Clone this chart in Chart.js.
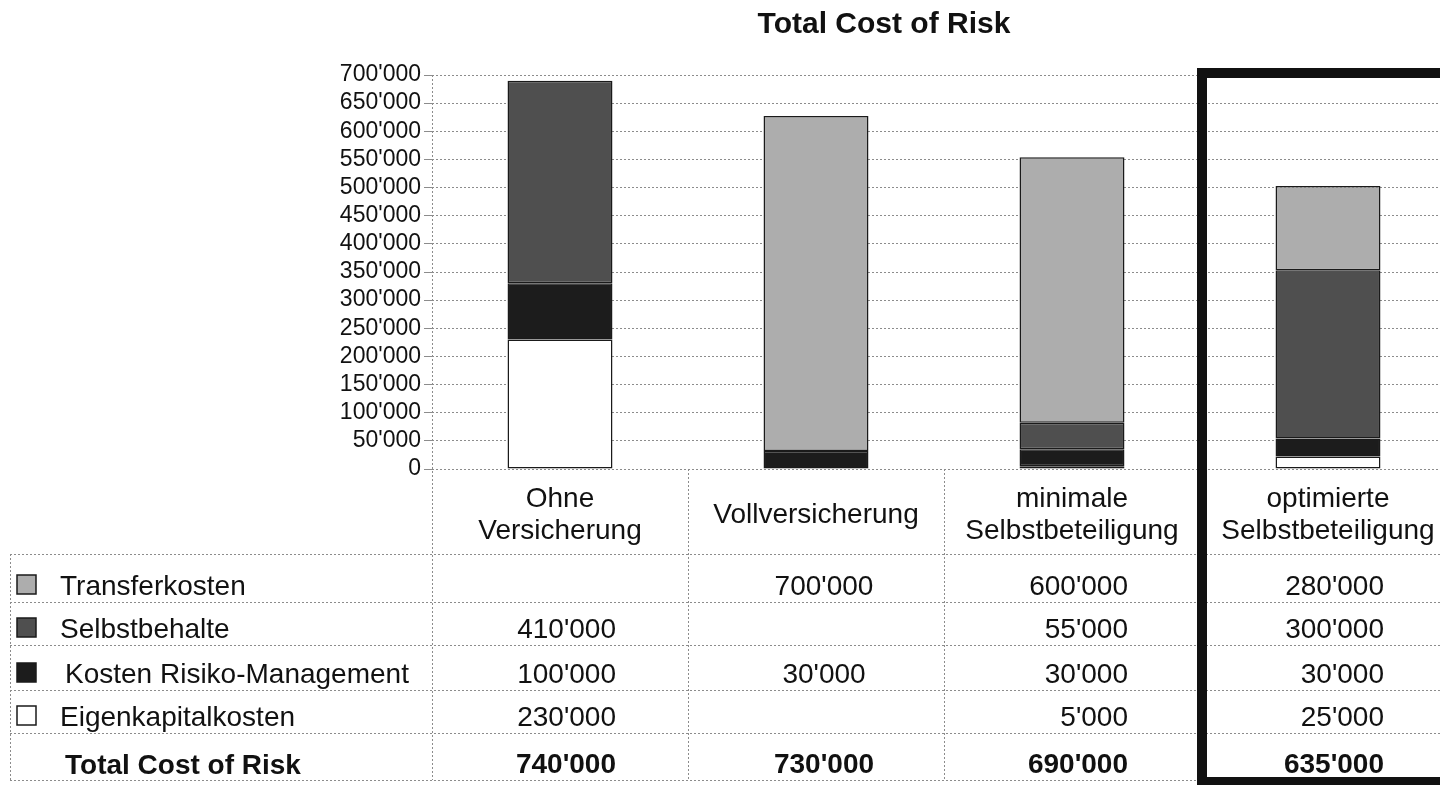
<!DOCTYPE html>
<html>
<head>
<meta charset="utf-8">
<title>Total Cost of Risk</title>
<script src="https://cdn.jsdelivr.net/npm/chart.js@4"></script>
<style>
  html, body { margin: 0; padding: 0; background: #fff; overflow: hidden; }
  #wrap { width: 1456px; height: 785px; }
</style>
</head>
<body>
<div id="wrap"><canvas id="costOfRisk" width="1456" height="785"></canvas></div>
<script>
// categories (x axis) and row names of the table
let kategorien = [["Ohne", "Versicherung"], "Vollversicherung", ["minimale", "Selbstbeteiligung"], ["optimierte", "Selbstbeteiligung"]];
let reihen = ["Transferkosten", "Selbstbehalte", "Kosten Risiko-Management", "Eigenkapitalkosten"];
let totalLabel = "Total Cost of Risk";

// bar heights as they are drawn in the chart
let balkenTransfer = [null, 595000, 472000, 150000];
let balkenSelbstbehalte = [360000, null, 47000, 299000];
let balkenRisikoMgmt = [100000, 32000, 30000, 32000];
let balkenEigenkapital = [230000, null, 5000, 22000];

// numbers printed in the table under the chart
let tabTransfer = [null, 700000, 600000, 280000];
let tabSelbstbehalte = [410000, null, 55000, 300000];
let tabRisikoMgmt = [100000, 30000, 30000, 30000];
let tabEigenkapital = [230000, null, 5000, 25000];
let tabTotal = [740000, 730000, 690000, 635000];

// y axis
let yMin = 0;
let yMax = 700000;
let yStep = 50000;

let farben = ['#adadad', '#4f4f4f', '#1c1c1c', '#ffffff'];
let rand = '#1a1a1a';
let gitter = '#8c8c8c';

function fmt(v) {
    return String(v).replace(/\B(?=(\d{3})+(?!\d))/g, "'");
}

function punktLinie(ctx, x1, y1, x2, y2) {
    ctx.beginPath();
    ctx.moveTo(x1, y1);
    ctx.lineTo(x2, y2);
    ctx.stroke();
}

// title, table lines, row labels and numbers
let tabelle = {
    id: 'tabelle',
    afterDraw(chart) {
        let ctx = chart.ctx;
        let xs = chart.scales.x;
        let area = chart.chartArea;
        let colW = xs.getPixelForValue(1) - xs.getPixelForValue(0);
        let rowY = [554, 602, 645, 690, 733, 780];
        ctx.save();

        // title
        ctx.fillStyle = '#111';
        ctx.font = "bold 30px 'Liberation Sans', Arial, sans-serif";
        ctx.textAlign = 'center';
        ctx.textBaseline = 'alphabetic';
        ctx.fillText(totalLabel, 884, 33);

        // dotted lines
        ctx.strokeStyle = gitter;
        ctx.lineWidth = 1;
        ctx.setLineDash([2, 2]);
        punktLinie(ctx, area.left + 0.5, area.top, area.left + 0.5, rowY[5]);
        for (let i = 1; i < kategorien.length; i++) {
            let bx = Math.round(area.left + i * colW) + 0.5;
            punktLinie(ctx, bx, area.bottom, bx, rowY[5]);
        }
        rowY.forEach(function (ry) {
            punktLinie(ctx, 10, ry + 0.5, 1456, ry + 0.5);
        });
        punktLinie(ctx, 10.5, rowY[0], 10.5, rowY[5]);
        ctx.setLineDash([]);

        // row labels with swatches
        let werte = [tabTransfer, tabSelbstbehalte, tabRisikoMgmt, tabEigenkapital];
        let textX = [60, 60, 65, 60];
        ctx.textAlign = 'left';
        ctx.font = "28px 'Liberation Sans', Arial, sans-serif";
        for (let r = 0; r < reihen.length; r++) {
            let base = rowY[r + 1] - 7;
            ctx.fillStyle = farben[r];
            ctx.fillRect(17, base - 20, 19, 19);
            ctx.strokeStyle = rand;
            ctx.lineWidth = 1.5;
            ctx.strokeRect(17, base - 20, 19, 19);
            ctx.fillStyle = '#111';
            ctx.fillText(reihen[r], textX[r], base);
        }
        ctx.font = "bold 28px 'Liberation Sans', Arial, sans-serif";
        ctx.fillText(totalLabel, 65, rowY[5] - 6);

        // numbers
        for (let c = 0; c < kategorien.length; c++) {
            let cx = xs.getPixelForValue(c);
            for (let r = 0; r <= reihen.length; r++) {
                let v = r < reihen.length ? werte[r][c] : tabTotal[c];
                if (v === null) continue;
                ctx.font = (r === reihen.length ? "bold " : "") + "28px 'Liberation Sans', Arial, sans-serif";
                if (c === 1) {
                    ctx.textAlign = 'center';
                    ctx.fillText(fmt(v), cx + 8, rowY[r + 1] - 7);
                } else {
                    ctx.textAlign = 'right';
                    ctx.fillText(fmt(v), cx + 56, rowY[r + 1] - 7);
                }
            }
        }

        // thick frame round the last column
        let fx = Math.round(area.left + 3 * colW) + 2;
        ctx.strokeStyle = '#111';
        ctx.lineWidth = 10;
        ctx.strokeRect(fx, 73, 300, 709);
        ctx.restore();
    }
};

new Chart("costOfRisk", {
    type: "bar",
    data: {
        labels: kategorien,
        datasets: [
            { label: reihen[3], data: balkenEigenkapital, backgroundColor: farben[3] },
            { label: reihen[2], data: balkenRisikoMgmt, backgroundColor: farben[2] },
            { label: reihen[1], data: balkenSelbstbehalte, backgroundColor: farben[1] },
            { label: reihen[0], data: balkenTransfer, backgroundColor: farben[0] }
        ]
    },
    options: {
        responsive: false,
        animation: false,
        layout: { padding: { top: 75, left: 0, right: 0, bottom: 0 } },
        datasets: {
            bar: {
                borderColor: rand,
                borderWidth: 1.5,
                borderSkipped: false,
                categoryPercentage: 1,
                barPercentage: 0.41
            }
        },
        plugins: {
            legend: { display: false },
            title: { display: false },
            tooltip: { enabled: false }
        },
        scales: {
            x: {
                stacked: true,
                grid: { display: false, drawTicks: false },
                border: { display: false },
                ticks: {
                    padding: 30,
                    color: '#111',
                    autoSkip: false,
                    maxRotation: 0,
                    crossAlign: 'center',
                    font: { family: "'Liberation Sans', Arial, sans-serif", size: 28, lineHeight: 1.15 }
                },
                afterFit: function (s) {
                    s.height = 785 - 469;
                    s.paddingLeft = 0;
                    s.paddingRight = 0;
                }
            },
            y: {
                stacked: true,
                min: yMin,
                max: yMax,
                grid: { color: gitter, tickColor: gitter, tickLength: 8 },
                border: { display: false, dash: [2, 2] },
                ticks: {
                    stepSize: yStep,
                    autoSkip: false,
                    padding: 3,
                    color: '#111',
                    font: { family: "'Liberation Sans', Arial, sans-serif", size: 23 },
                    callback: function (v) { return fmt(v); }
                },
                afterFit: function (s) { s.width = 432; }
            }
        }
    },
    plugins: [tabelle]
});
</script>
</body>
</html>
